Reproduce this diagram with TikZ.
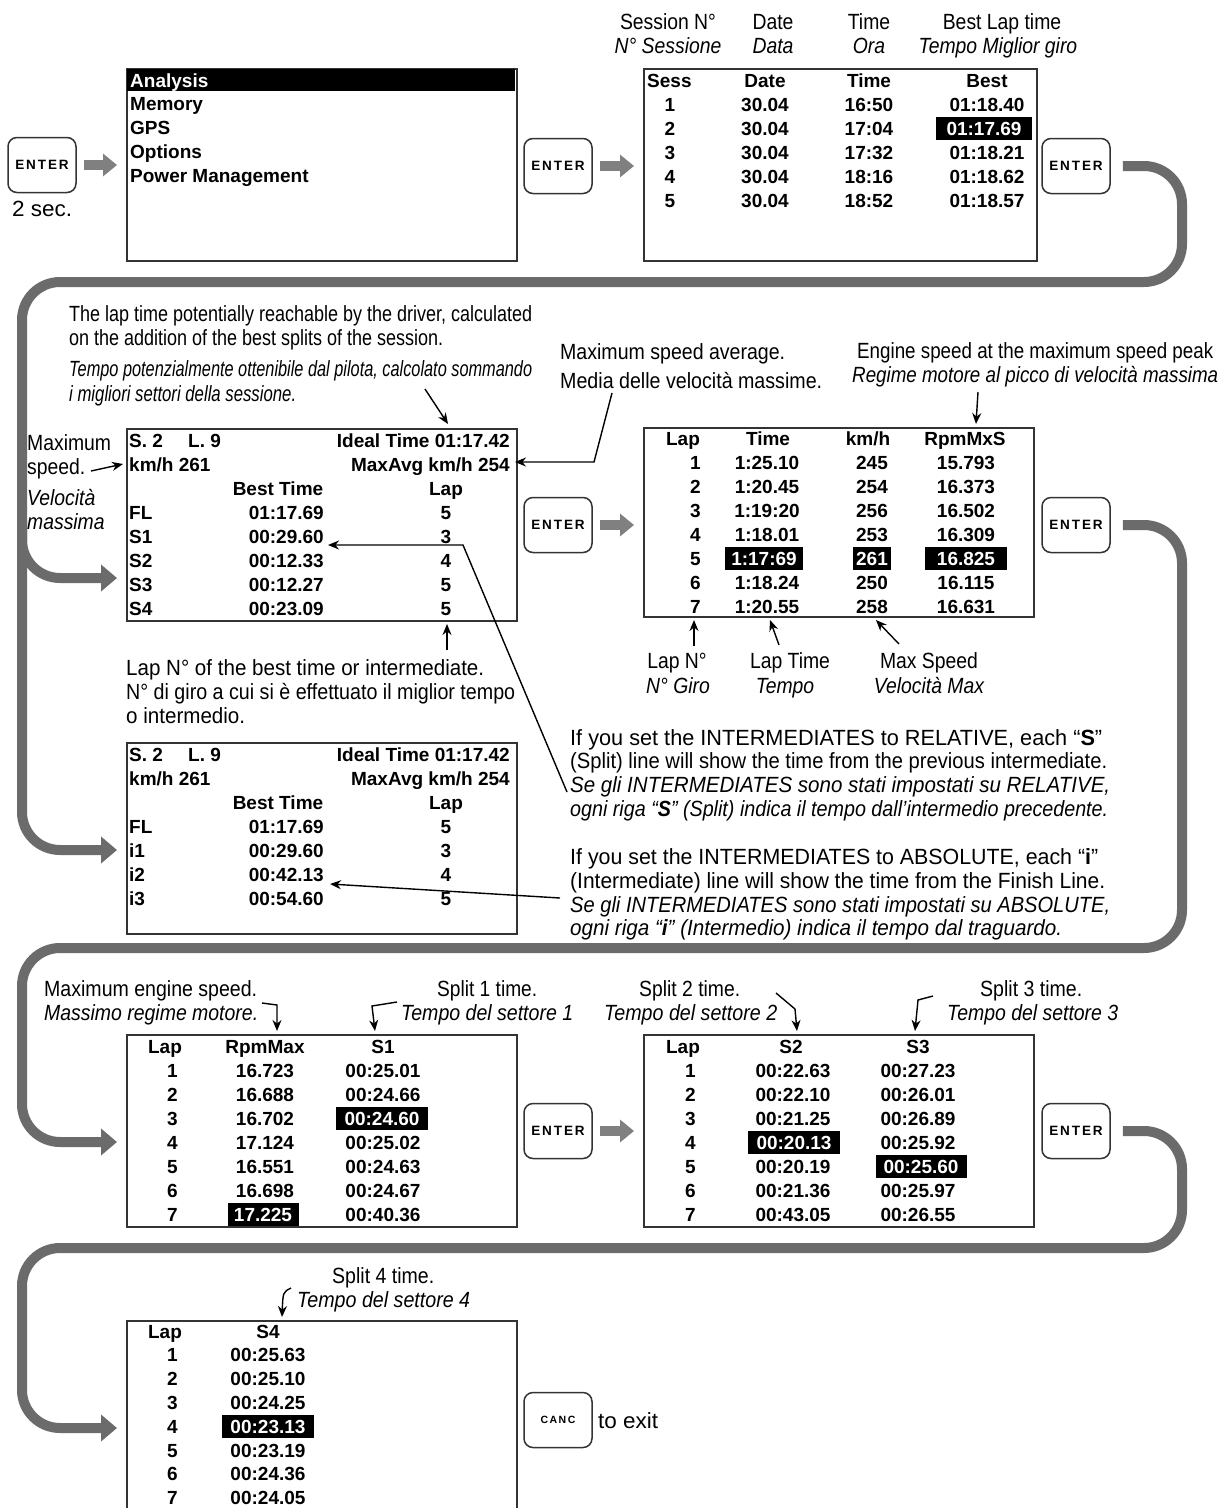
\documentclass[tikz,border=0pt]{standalone}
\usepackage{fontspec}
\usepackage{graphicx}
\usetikzlibrary{arrows.meta}
\setmainfont{Liberation Sans}
\newfontfamily\narrowfam{Liberation Sans}[FakeStretch=0.88]
\newfontfamily\keyfam{Liberation Sans}[LetterSpace=14]
\newcommand\scrfont{\fontsize{19}{21}\selectfont\bfseries}
\newcommand\annfont{\narrowfam\fontsize{22}{24}\selectfont}
% set a line of text to a given width, keeping its height
\newcommand\fw[2]{\resizebox{#1pt}{\height}{#2}}

\begin{document}
\begin{tikzpicture}[x=1pt,y=-1pt,
  screen/.style={draw=black!80, line width=1.5pt, inner sep=0pt, anchor=north west},
  st/.style={font=\scrfont, inner sep=0pt, text height=14pt, text depth=0pt},
  hl/.style={st, fill=black, text=white, minimum height=23pt},
  ann/.style={font=\annfont, inner sep=0pt, text height=16pt, text depth=0pt},
  key/.style={draw=black!80, line width=1.5pt, rounded corners=9pt, minimum width=68pt,
    minimum height=55pt, inner sep=0pt, font=\keyfam\bfseries\fontsize{13.5}{13.5}\selectfont},
  canckey/.style={key, font=\keyfam\bfseries\fontsize{10.5}{10.5}\selectfont},
  small/.style={draw=black!50, line width=10pt, -{Triangle[width=22pt,length=14pt]},
    shorten <=7pt, shorten >=9pt},
  flow/.style={draw=black!58, line width=10pt, rounded corners=38pt,
    -{Triangle[width=26pt,length=16pt]}, shorten >=9pt},
  note/.style={draw=black, line width=1.4pt, -{Stealth[length=11pt,width=9pt]}},
]
\useasboundingbox (0,0) rectangle (1227,1508);
\clip (0,0) rectangle (1227,1508);
\fill[white] (0,0) rectangle (1227,1508);

% ---------- keys ----------
\node[key] (k1) at (42,165) {ENTER};
\node[key] (k2) at (558,166) {ENTER};
\node[key] (k3) at (1076,166) {ENTER};
\node[key] (k4) at (558,525) {ENTER};
\node[key] (k5) at (1076,525) {ENTER};
\node[key] (k6) at (558,1131) {ENTER};
\node[key] (k7) at (1076,1131) {ENTER};
\node[canckey] (kc) at (558,1420) {CANC};
\node[ann, anchor=west] (twosec) at (12,208) {\fw{60}{2 sec.}};
\node[ann, anchor=west] (toexit) at (598,1420) {\fw{60}{to exit}};

% ---------- screens ----------
\node[screen, minimum width=390pt, minimum height=192pt] (menu) at (126,68) {};
\node[screen, minimum width=393pt, minimum height=192pt] (sess) at (643,68) {};
\node[screen, minimum width=390pt, minimum height=192pt] (ideal1) at (126,428) {};
\node[screen, minimum width=390pt, minimum height=189pt] (laps) at (643,427) {};
\node[screen, minimum width=390pt, minimum height=191pt] (ideal2) at (126,742) {};
\node[screen, minimum width=390pt, minimum height=192pt] (rpm) at (126,1034) {};
\node[screen, minimum width=390pt, minimum height=192pt] (splits) at (643,1034) {};
\node[screen, minimum width=390pt, minimum height=200pt] (sfour) at (126,1320) {};

% ---------- small arrows after the keys ----------
\draw[small] (k1.east) -- (k1.east -| menu.west);
\draw[small] (k2.east) -- (k2.east -| sess.west);
\draw[small] (k4.east) -- (k4.east -| laps.west);
\draw[small] (k6.east) -- (k6.east -| splits.west);

% ---------- flow connectors ----------
\coordinate (r1) at (0,578);
\coordinate (r2) at (0,850);
\coordinate (r3) at (0,1142);
\coordinate (r4) at (0,1428);
\draw[flow] ([xshift=12pt]k3.east) -- (1182,166) -- (1182,282) -- (22,282) -- (22,850) -- (ideal2.west |- r2);
\draw[flow] (22,520) -- (22,578) -- (ideal1.west |- r1);
\draw[flow] ([xshift=12pt]k5.east) -- (1182,525) -- (1182,948) -- (22,948) -- (22,1142) -- (rpm.west |- r3);
\draw[flow] ([xshift=12pt]k7.east) -- (1182,1131) -- (1182,1248) -- (22,1248) -- (22,1428) -- (sfour.west |- r4);

% ---------- main menu ----------
\fill[black] (127,69) rectangle (515,91);
\node[st, anchor=west, text=white] (m1) at (130,80) {Analysis};
\node[st, anchor=west] (m2) at (130,103) {Memory};
\node[st, anchor=west] (m3) at (130,127) {GPS};
\node[st, anchor=west] (m4) at (130,151) {Options};
\node[st, anchor=west] (m5) at (130,175) {Power Management};

% ---------- sessions ----------
\node[st, anchor=west] (sh1) at (647,80) {Sess};
\node[st] (sh2) at (765,80) {Date};
\node[st] (sh3) at (869,80) {Time};
\node[st] (sh4) at (987,80) {Best};
\foreach \n/\d/\t/\b in {1/30.04/16:50/01:18.40, 3/30.04/17:32/01:18.21,
    4/30.04/18:16/01:18.62, 5/30.04/18:52/01:18.57} {
  \node[st] (sn\n) at (670,{80+24*\n}) {\n};
  \node[st] (sd\n) at (765,{80+24*\n}) {\d};
  \node[st] (stm\n) at (869,{80+24*\n}) {\t};
  \node[st] (sb\n) at (987,{80+24*\n}) {\b};
}
\node[st] (sn2) at (670,128) {2};
\node[st] (sd2) at (765,128) {30.04};
\node[st] (stm2) at (869,128) {17:04};
\node[hl, minimum width=96pt] (sb2) at (984,128) {01:17.69};

% ---------- session summary, relative splits ----------
\node[st, anchor=west] (ia1) at (129,440) {S. 2};
\node[st, anchor=west] (ia2) at (188,440) {L. 9};
\node[st, anchor=east] (ia3) at (510,440) {Ideal Time 01:17.42};
\node[st, anchor=west] (ia4) at (129,464) {km/h 261};
\node[st, anchor=east] (ia5) at (510,464) {MaxAvg km/h 254};
\node[st] (ia6) at (278,488) {Best Time};
\node[st] (ia7) at (446,488) {Lap};
\foreach \a/\b/\c [count=\i] in {FL/01:17.69/5, S1/00:29.60/3, S2/00:12.33/4,
    S3/00:12.27/5, S4/00:23.09/5} {
  \node[st, anchor=west] (ira\i) at (129,{488+24*\i}) {\a};
  \node[st, anchor=east] (irb\i) at (324,{488+24*\i}) {\b};
  \node[st] (irc\i) at (446,{488+24*\i}) {\c};
}

% ---------- session summary, absolute intermediates ----------
\node[st, anchor=west] (ja1) at (129,754) {S. 2};
\node[st, anchor=west] (ja2) at (188,754) {L. 9};
\node[st, anchor=east] (ja3) at (510,754) {Ideal Time 01:17.42};
\node[st, anchor=west] (ja4) at (129,778) {km/h 261};
\node[st, anchor=east] (ja5) at (510,778) {MaxAvg km/h 254};
\node[st] (ja6) at (278,802) {Best Time};
\node[st] (ja7) at (446,802) {Lap};
\foreach \a/\b/\c [count=\i] in {FL/01:17.69/5, i1/00:29.60/3, i2/00:42.13/4, i3/00:54.60/5} {
  \node[st, anchor=west] (jra\i) at (129,{802+24*\i}) {\a};
  \node[st, anchor=east] (jrb\i) at (324,{802+24*\i}) {\b};
  \node[st] (jrc\i) at (446,{802+24*\i}) {\c};
}

% ---------- lap list ----------
\node[st] (lh1) at (683,438) {Lap};
\node[st] (lh2) at (768,438) {Time};
\node[st] (lh3) at (868,438) {km/h};
\node[st] (lh4) at (965,438) {RpmMxS};
\foreach \n/\t/\v/\r in {1/1:25.10/245/15.793, 2/1:20.45/254/16.373, 3/1:19:20/256/16.502,
    4/1:18.01/253/16.309, 6/1:18.24/250/16.115, 7/1:20.55/258/16.631} {
  \node[st, anchor=east] (ln\n) at (701,{438+24.1*\n}) {\n};
  \node[st] (lt\n) at (767,{438+24.1*\n}) {\t};
  \node[st] (lv\n) at (872,{438+24.1*\n}) {\v};
  \node[st] (lr\n) at (966,{438+24.1*\n}) {\r};
}
\node[st, anchor=east] (ln5) at (701,558.5) {5};
\node[hl, minimum width=78pt] (lt5) at (764,558.5) {1:17:69};
\node[hl, minimum width=38pt] (lv5) at (872,558.5) {261};
\node[hl, minimum width=82pt] (lr5) at (966,558.5) {16.825};

% ---------- max rpm and split 1 ----------
\node[st] (rh1) at (165,1046) {Lap};
\node[st] (rh2) at (265,1046) {RpmMax};
\node[st] (rh3) at (383,1046) {S1};
\foreach \n/\r/\s in {1/16.723/00:25.01, 2/16.688/00:24.66, 4/17.124/00:25.02,
    5/16.551/00:24.63, 6/16.698/00:24.67} {
  \node[st, anchor=east] (rn\n) at (178,{1046+24*\n}) {\n};
  \node[st] (rr\n) at (265,{1046+24*\n}) {\r};
  \node[st] (rs\n) at (383,{1046+24*\n}) {\s};
}
\node[st, anchor=east] (rn3) at (178,1118) {3};
\node[st] (rr3) at (265,1118) {16.702};
\node[hl, minimum width=92pt] (rs3) at (382,1118) {00:24.60};
\node[st, anchor=east] (rn7) at (178,1214) {7};
\node[hl, minimum width=71pt] (rr7) at (263,1214) {17.225};
\node[st] (rs7) at (383,1214) {00:40.36};

% ---------- splits 2 and 3 ----------
\node[st] (ph1) at (683,1046) {Lap};
\node[st] (ph2) at (791,1046) {S2};
\node[st] (ph3) at (918,1046) {S3};
\foreach \n/\a/\b in {1/00:22.63/00:27.23, 2/00:22.10/00:26.01, 3/00:21.25/00:26.89,
    6/00:21.36/00:25.97, 7/00:43.05/00:26.55} {
  \node[st, anchor=east] (pn\n) at (696,{1046+24*\n}) {\n};
  \node[st] (pa\n) at (793,{1046+24*\n}) {\a};
  \node[st] (pb\n) at (918,{1046+24*\n}) {\b};
}
\node[st, anchor=east] (pn4) at (696,1142) {4};
\node[hl, minimum width=92pt] (pa4) at (794,1142) {00:20.13};
\node[st] (pb4) at (918,1142) {00:25.92};
\node[st, anchor=east] (pn5) at (696,1166) {5};
\node[st] (pa5) at (793,1166) {00:20.19};
\node[hl, minimum width=91pt] (pb5) at (921,1166) {00:25.60};

% ---------- split 4 ----------
\node[st] (qh1) at (165,1331) {Lap};
\node[st] (qh2) at (268,1331) {S4};
\foreach \n/\a in {1/00:25.63, 2/00:25.10, 3/00:24.25, 5/00:23.19, 6/00:24.36, 7/00:24.05} {
  \node[st, anchor=east] (qn\n) at (178,{1331+23.8*\n}) {\n};
  \node[st] (qa\n) at (268,{1331+23.8*\n}) {\a};
}
\node[st, anchor=east] (qn4) at (178,1426.2) {4};
\node[hl, minimum width=92pt] (qa4) at (268,1426.2) {00:23.13};

% ---------- column captions above the sessions ----------
\node[ann] (c1a) at (668,21) {Session N°};
\node[ann] (c1b) at (668,45) {\itshape N° Sessione};
\node[ann] (c2a) at (773,21) {Date};
\node[ann] (c2b) at (773,45) {\itshape Data};
\node[ann] (c3a) at (869,21) {Time};
\node[ann] (c3b) at (869,45) {\itshape Ora};
\node[ann] (c4a) at (1002,21) {Best Lap time};
\node[ann] (c4b) at (998,45) {\itshape Tempo Miglior giro};

% ---------- notes around the summary ----------
\node[ann, anchor=west] (t1) at (69,313) {\fw{463}{The lap time potentially reachable by the driver, calculated}};
\node[ann, anchor=west] (t2) at (69,337) {\fw{374}{on the addition of the best splits of the session.}};
\node[ann, anchor=west] (t3) at (69,368) {\fw{463}{\itshape Tempo potenzialmente ottenibile dal pilota, calcolato sommando}};
\node[ann, anchor=west] (t4) at (69,393) {\fw{227}{\itshape i migliori settori della sessione.}};
\node[ann, anchor=west] (v1) at (560,351) {\fw{225}{Maximum speed average.}};
\node[ann, anchor=west] (v2) at (560,380) {\fw{262}{Media delle velocità massime.}};
\node[ann, anchor=west] (e1) at (857,350) {\fw{356}{Engine speed at the maximum speed peak}};
\node[ann, anchor=west] (e2) at (852,374) {\fw{366}{\itshape Regime motore al picco di velocità massima}};
\node[ann, anchor=west] (ms1) at (27,442) {Maximum};
\node[ann, anchor=west] (ms2) at (27,466) {speed.};
\node[ann, anchor=west] (ms3) at (27,497) {\itshape Velocità};
\node[ann, anchor=west] (ms4) at (27,521) {\itshape massima};
\node[ann, anchor=west] (b1) at (126,667) {\fw{358}{Lap N° of the best time or intermediate.}};
\node[ann, anchor=west] (b2) at (126,691) {\fw{389}{N° di giro a cui si è effettuato il miglior tempo}};
\node[ann, anchor=west] (b3) at (126,715) {\fw{119}{o intermedio.}};
\node[ann] (g1a) at (677,660) {Lap N°};
\node[ann] (g1b) at (678,685) {\itshape N° Giro};
\node[ann] (g2a) at (790,660) {Lap Time};
\node[ann] (g2b) at (785,685) {\itshape Tempo};
\node[ann] (g3a) at (929,660) {Max Speed};
\node[ann] (g3b) at (929,685) {\itshape Velocità Max};

\node[ann, anchor=west] (x1) at (570,737) {\fw{532}{If you set the INTERMEDIATES to RELATIVE, each “\textbf{S}”}};
\node[ann, anchor=west] (x2) at (570,760) {\fw{537}{(Split) line will show the time from the previous intermediate.}};
\node[ann, anchor=west] (x3) at (570,784) {\fw{540}{\itshape Se gli INTERMEDIATES sono stati impostati su RELATIVE,}};
\node[ann, anchor=west] (x4) at (570,808) {\fw{538}{\itshape ogni riga “\textbf{S}” (Split) indica il tempo dall’intermedio precedente.}};
\node[ann, anchor=west] (y1) at (570,856) {\fw{528}{If you set the INTERMEDIATES to ABSOLUTE, each “\textbf{i}”}};
\node[ann, anchor=west] (y2) at (570,880) {\fw{535}{(Intermediate) line will show the time from the Finish Line.}};
\node[ann, anchor=west] (y3) at (570,904) {\fw{540}{\itshape Se gli INTERMEDIATES sono stati impostati su ABSOLUTE,}};
\node[ann, anchor=west] (y4) at (570,927) {\fw{492}{\itshape ogni riga “\textbf{i}” (Intermedio) indica il tempo dal traguardo.}};

% ---------- notes above the split tables ----------
\node[ann, anchor=west] (h1a) at (44,988) {\fw{213}{Maximum engine speed.}};
\node[ann, anchor=west] (h1b) at (44,1012) {\fw{214}{\itshape Massimo regime motore.}};
\node[ann, anchor=west] (h2a) at (437,988) {\fw{100}{Split 1 time.}};
\node[ann, anchor=west] (h2b) at (401,1012) {\fw{172}{\itshape Tempo del settore 1}};
\node[ann, anchor=west] (h3a) at (639,988) {\fw{101}{Split 2 time.}};
\node[ann, anchor=west] (h3b) at (604,1012) {\fw{173}{\itshape Tempo del settore 2}};
\node[ann, anchor=west] (h4a) at (980,988) {\fw{102}{Split 3 time.}};
\node[ann, anchor=west] (h4b) at (947,1012) {\fw{171}{\itshape Tempo del settore 3}};
\node[ann, anchor=west] (h5a) at (332,1275) {\fw{102}{Split 4 time.}};
\node[ann, anchor=west] (h5b) at (297,1299) {\fw{173}{\itshape Tempo del settore 4}};

% ---------- pointer arrows ----------
\coordinate (a1s) at (425,389);  \coordinate (a1e) at (448,424);
\draw[note] (a1s) -- (a1e);
\coordinate (a2s) at (612,393);  \coordinate (a2m) at (594,462);
\draw[note] (a2s) -- (a2m) -- ([xshift=5pt]ia5.east |- a2m);
\coordinate (a3s) at (978,392);  \coordinate (a3e) at (976,424);
\draw[note] (a3s) -- (a3e);
\coordinate (a4s) at (91,471);
\draw[note] (a4s) -- ([xshift=-6pt]ia4.west);
\coordinate (a5s) at (447,650);  \coordinate (a5e) at (447,624);
\draw[note] (a5s) -- (a5e);
\coordinate (a6s) at (567,792);  \coordinate (a6m) at (463,545);
\draw[note] (a6s) -- (a6m) -- ([xshift=4pt]irb2.east |- a6m);
\coordinate (a7s) at (560,898);  \coordinate (a7e) at (330,884);
\draw[note] (a7s) -- (a7e);
\coordinate (a8s) at (694,646);  \coordinate (a8e) at (694,620);
\draw[note] (a8s) -- (a8e);
\coordinate (a9s) at (779,645);  \coordinate (a9e) at (770,620);
\draw[note] (a9s) -- (a9e);
\coordinate (a10s) at (899,644); \coordinate (a10e) at (876,620);
\draw[note] (a10s) -- (a10e);
\coordinate (a11s) at (262,1003); \coordinate (a11m) at (277,1005); \coordinate (a11e) at (277,1031);
\draw[note] (a11s) -- (a11m) -- (a11e);
\coordinate (a12s) at (397,1002); \coordinate (a12m) at (372,1006); \coordinate (a12e) at (375,1031);
\draw[note] (a12s) -- (a12m) -- (a12e);
\coordinate (a13s) at (776,993); \coordinate (a13m) at (795,1009); \coordinate (a13e) at (797,1031);
\draw[note] (a13s) -- (a13m) -- (a13e);
\coordinate (a14s) at (933,996); \coordinate (a14m) at (918,1000); \coordinate (a14e) at (915,1031);
\draw[note] (a14s) -- (a14m) -- (a14e);
\coordinate (a15s) at (291,1288); \coordinate (a15c) at (283,1292); \coordinate (a15e) at (282,1317);
\draw[note] (a15s) .. controls (a15c) .. (a15e);
\end{tikzpicture}
\end{document}
